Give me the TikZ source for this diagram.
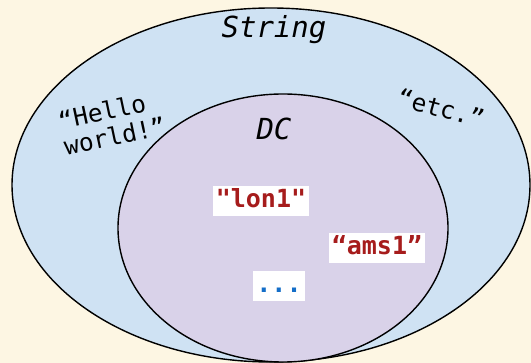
\documentclass[tikz,border=0pt]{standalone}
\usepackage{fontspec}
\setmonofont{DejaVu Sans Mono}
\usepackage{tikz}
\usetikzlibrary{positioning}
\usepackage{xcolor}
\definecolor{paper}{RGB}{253,246,227}
\definecolor{cStr}{RGB}{207,226,243}
\definecolor{cDC}{RGB}{217,210,233}
\definecolor{cVal}{RGB}{166,28,28}
\definecolor{cMore}{RGB}{20,110,200}
\tikzset{
  set/.style={draw=black,line width=1.4pt},
  title/.style={font=\fontsize{29}{30}\selectfont\ttfamily\itshape,inner sep=0pt},
  elt/.style={font=\fontsize{24.5}{26}\selectfont\ttfamily,align=left,inner sep=0pt},
  val/.style={fill=white,inner sep=3pt,text height=19pt,text depth=5pt,
    font=\fontsize{25}{26}\selectfont\ttfamily\bfseries},
}

\begin{document}
\begin{tikzpicture}[x=1pt,y=-1pt]
  \useasboundingbox[fill=paper] (0,0) rectangle (531,363);
  % the two sets
  \filldraw[set,fill=cStr] (271,185) ellipse [x radius=259,y radius=177];
  \filldraw[set,fill=cDC]  (283,228) ellipse [x radius=165,y radius=134];
  % set names
  \node[title] (str) at (274,30)  {String};
  \node[title] (dc)  at (274,129) {DC};
  % strings outside DC
  \node[elt,rotate=12]  (hello) at (112,123) {“Hello\\ world!”};
  \node[elt,rotate=-15] (etc)   at (441,108) {“etc.”};
  % members of DC
  \node[val,text=cVal]  (lon)  at (261,201) {"lon1"};
  \node[val,text=cVal]  (ams)  at (377,248) {“ams1”};
  \node[val,text=cMore] (more) at (279,286) {...};
\end{tikzpicture}
\end{document}
